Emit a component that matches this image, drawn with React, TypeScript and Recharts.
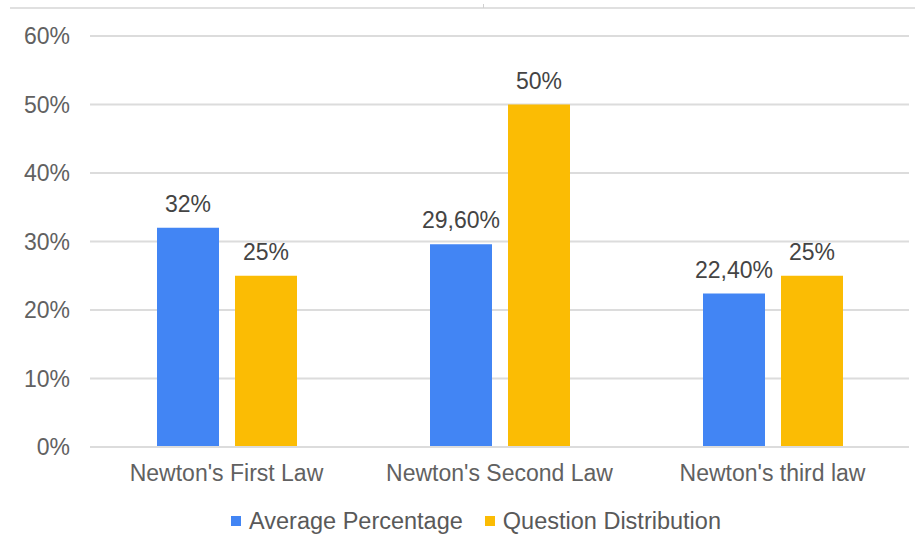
import { BarChart, Bar, XAxis, YAxis, CartesianGrid, Legend, LabelList } from 'recharts';

const categories = ["Newton's First Law", "Newton's Second Law", "Newton's third law"];
const averagePercentage = [0.32, 0.296, 0.224];
const questionDistribution = [0.25, 0.5, 0.25];
const yTicks = [0, 0.1, 0.2, 0.3, 0.4, 0.5, 0.6];

const data = categories.map((name, i) => ({
  name,
  avg: averagePercentage[i],
  dist: questionDistribution[i],
}));

const FONT = '"Liberation Sans", Arial, sans-serif';

// sheets-style labels: 32% / 29,60%
const formatValue = (v: number) => {
  const pct = Math.round(v * 10000) / 100;
  return Number.isInteger(pct) ? `${pct}%` : `${pct.toFixed(2).replace('.', ',')}%`;
};

function LegendContent({ payload }: any) {
  return (
    <div
      style={{
        height: 30,
        display: 'flex',
        alignItems: 'center',
        justifyContent: 'center',
        paddingLeft: 43,
        fontFamily: FONT,
        fontSize: 23.5,
        color: '#595959',
      }}
    >
      {(payload || []).map((item: any, i: number) => (
        <div key={item.value} style={{ display: 'flex', alignItems: 'center', marginLeft: i > 0 ? 22 : 0 }}>
          <span style={{ width: 10, height: 10, background: item.color, marginRight: 8, display: 'inline-block' }} />
          <span>{item.value}</span>
        </div>
      ))}
    </div>
  );
}

export default function App() {
  return (
    <div style={{ position: 'absolute', left: 0, top: 0, width: 915, height: 536, background: '#fff' }}>
      <div style={{ position: 'absolute', left: 10, top: 7, width: 905, height: 2, background: '#e0e0e0' }} />
      <div style={{ position: 'absolute', left: 483, top: 4, width: 1, height: 4, background: '#d0d0d0' }} />
      <BarChart
        width={915}
        height={536}
        data={data}
        margin={{ top: 36, right: 6, left: 0, bottom: 0 }}
        barCategoryGap={67}
        barGap={16}
      >
        <CartesianGrid vertical={false} stroke="#dcdcdc" strokeWidth={2} />
        <XAxis
          dataKey="name"
          height={59}
          tickLine={false}
          axisLine={{ stroke: '#dcdcdc', strokeWidth: 2 }}
          tickMargin={12}
          tick={{ fontSize: 23, fill: '#616161', fontFamily: FONT }}
        />
        <YAxis
          width={90}
          domain={[0, 0.6]}
          ticks={yTicks}
          tickFormatter={(v: number) => `${Math.round(v * 100)}%`}
          axisLine={false}
          tickLine={false}
          tickMargin={14}
          tick={{ fontSize: 23, fill: '#616161', fontFamily: FONT }}
        />
        <Legend verticalAlign="bottom" content={<LegendContent />} />
        <Bar dataKey="avg" name="Average Percentage" fill="#4285F4" isAnimationActive={false}>
          <LabelList
            dataKey="avg"
            position="top"
            offset={16}
            formatter={formatValue}
            style={{ fontSize: 23, fill: '#444', fontFamily: FONT }}
          />
        </Bar>
        <Bar dataKey="dist" name="Question Distribution" fill="#FBBC04" isAnimationActive={false}>
          <LabelList
            dataKey="dist"
            position="top"
            offset={16}
            formatter={formatValue}
            style={{ fontSize: 23, fill: '#444', fontFamily: FONT }}
          />
        </Bar>
      </BarChart>
    </div>
  );
}
